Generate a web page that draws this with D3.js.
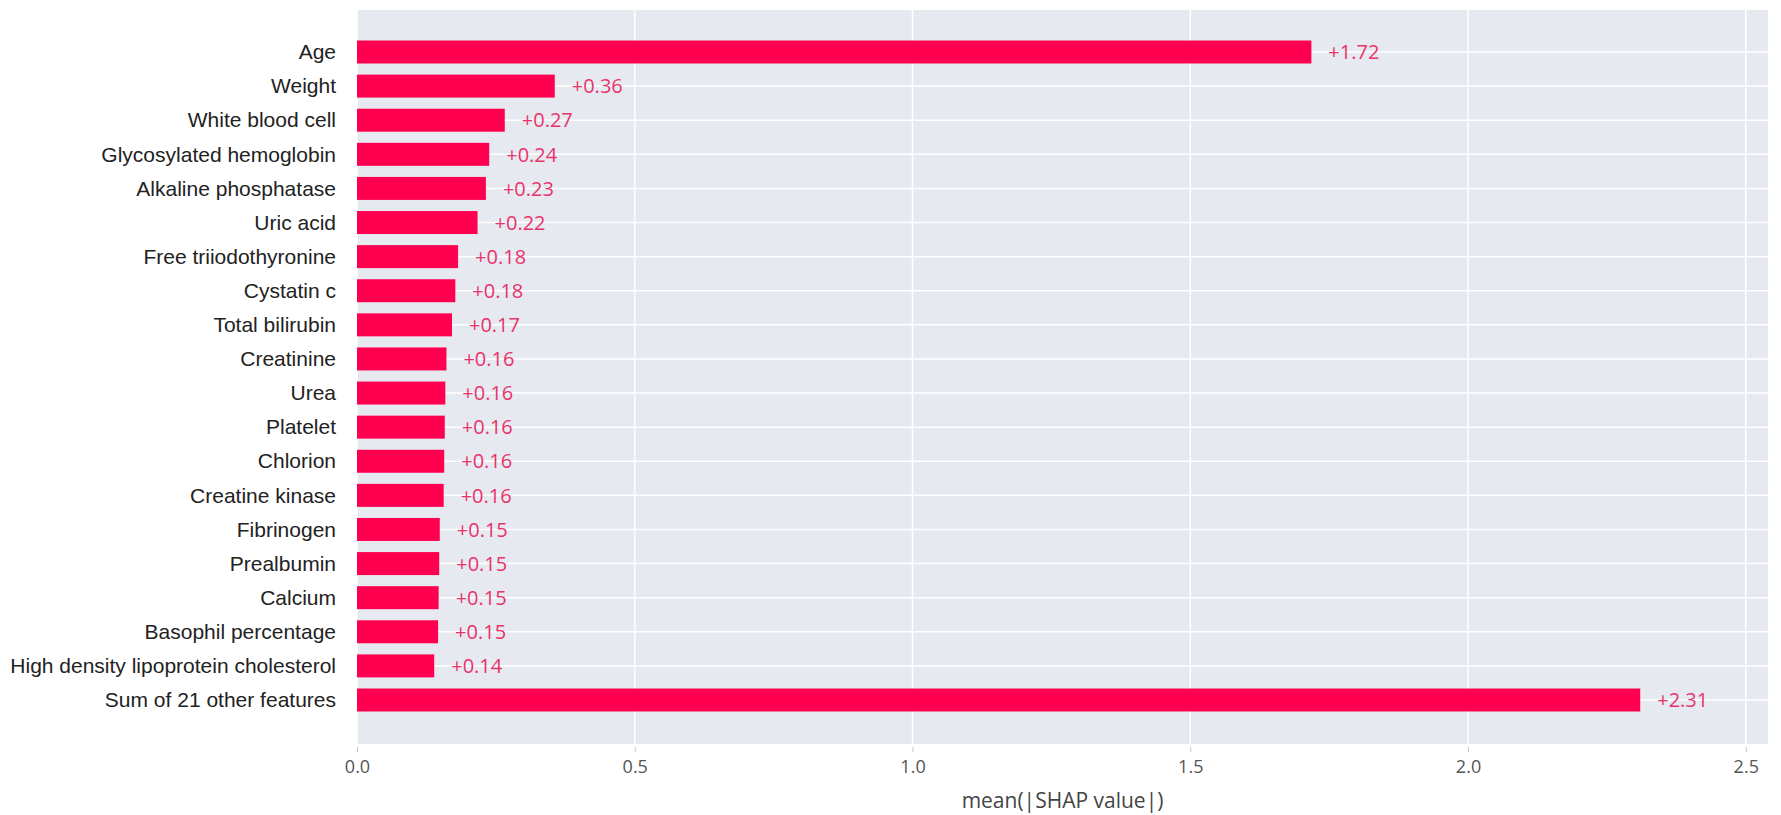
<!DOCTYPE html>
<html>
<head>
<meta charset="utf-8">
<script src="https://cdn.jsdelivr.net/npm/d3@7"></script>
<style>
  html, body { margin: 0; padding: 0; background: #ffffff; }
  svg { display: block; }
</style>
</head>
<body>
<svg id="chart" width="1781" height="815"></svg>
<script>
const features = [
  "Age", "Weight", "White blood cell", "Glycosylated hemoglobin", "Alkaline phosphatase",
  "Uric acid", "Free triiodothyronine", "Cystatin c", "Total bilirubin", "Creatinine",
  "Urea", "Platelet", "Chlorion", "Creatine kinase", "Fibrinogen",
  "Prealbumin", "Calcium", "Basophil percentage", "High density lipoprotein cholesterol",
  "Sum of 21 other features"
];
const meanAbsShap = [
  1.718, 0.356, 0.266, 0.238, 0.232,
  0.217, 0.182, 0.177, 0.171, 0.161,
  0.159, 0.158, 0.157, 0.156, 0.149,
  0.148, 0.147, 0.146, 0.139,
  2.31
];
const xTicks = [0.0, 0.5, 1.0, 1.5, 2.0, 2.5];
const xLabel = "mean(|SHAP value|)";

const svg = d3.select("#chart");
const plot = { left: 357, right: 1768, top: 10, bottom: 744 };
const rowFirst = 52, rowLast = 700;

const x = d3.scaleLinear().domain([0, 2.54]).range([plot.left, plot.right]);
const y = d3.scalePoint().domain(features).range([rowFirst, rowLast]);
const barH = 23;

// background
svg.append("rect")
  .attr("x", plot.left).attr("y", plot.top)
  .attr("width", plot.right - plot.left).attr("height", plot.bottom - plot.top)
  .attr("fill", "#e7e9f0");

// vertical grid
svg.append("g").selectAll("line").data(xTicks).join("line")
  .attr("x1", d => x(d)).attr("x2", d => x(d))
  .attr("y1", plot.top).attr("y2", plot.bottom)
  .attr("stroke", "#ffffff").attr("stroke-width", 1.5);

// horizontal grid
svg.append("g").selectAll("line").data(features).join("line")
  .attr("x1", plot.left).attr("x2", plot.right)
  .attr("y1", d => y(d)).attr("y2", d => y(d))
  .attr("stroke", "#ffffff").attr("stroke-width", 1.5);

const data = features.map((f, i) => ({ f, v: meanAbsShap[i] }));

// bars
svg.append("g").selectAll("rect").data(data).join("rect")
  .attr("x", x(0))
  .attr("y", d => y(d.f) - barH / 2)
  .attr("width", d => x(d.v) - x(0))
  .attr("height", barH)
  .attr("fill", "#ff0051");

// value labels
svg.append("g").selectAll("text").data(data).join("text")
  .attr("x", d => x(d.v) + 17)
  .attr("y", d => y(d.f))
  .attr("dy", "0.36em")
  .attr("font-family", "'Open Sans', sans-serif")
  .attr("font-size", 20)
  .attr("fill", "#e8336b")
  .text(d => "+" + d3.format(".2f")(d.v));

// y labels
const yAxis = d3.axisLeft(y).tickSize(0).tickPadding(21);
const gy = svg.append("g").attr("transform", `translate(${plot.left},0)`).call(yAxis);
gy.select(".domain").remove();
gy.selectAll("text")
  .attr("font-family", "'Liberation Sans', Arial, sans-serif")
  .attr("font-size", 21)
  .attr("fill", "#222");

// x axis
const xAxis = d3.axisBottom(x).tickValues(xTicks).tickFormat(d3.format(".1f")).tickSize(5).tickPadding(8);
const gx = svg.append("g").attr("transform", `translate(0,${plot.bottom + 3})`).call(xAxis);
gx.select(".domain").remove();
gx.selectAll(".tick line").attr("stroke", "#c8c8c8");
gx.selectAll("text")
  .attr("font-family", "'Open Sans', sans-serif")
  .attr("font-size", 18)
  .attr("fill", "#555");

// x label
svg.append("text")
  .attr("x", (plot.left + plot.right) / 2)
  .attr("y", 808)
  .attr("text-anchor", "middle")
  .attr("font-family", "'Open Sans', sans-serif")
  .attr("font-size", 21)
  .attr("fill", "#444")
  .text(xLabel);
</script>
</body>
</html>
